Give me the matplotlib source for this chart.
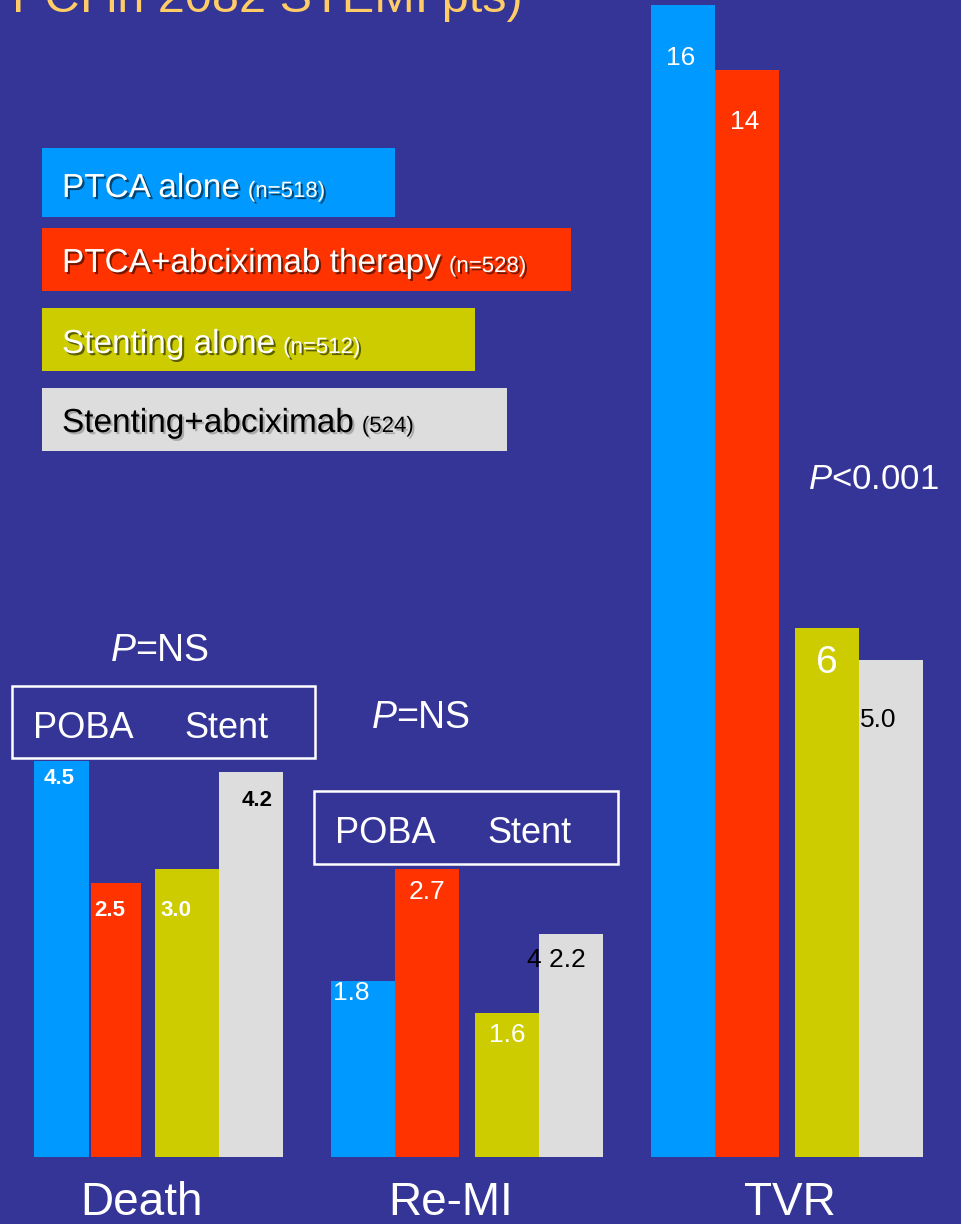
import matplotlib
matplotlib.use('Agg')
import matplotlib.pyplot as plt
import matplotlib.patheffects as pe
from matplotlib.patches import Rectangle

categories = ['Death', 'Re-MI', 'TVR']
series = ['PTCA alone', 'PTCA+abciximab therapy', 'Stenting alone', 'Stenting+abciximab']
series_n = ['(n=518)', '(n=528)', '(n=512)', '(524)']
p_values = ['$P$=NS', '$P$=NS', '$P$<0.001']

# numbers printed on the bars
value_labels = [
    ['4.5', '2.5', '3.0', '4.2'],
    ['1.8', '2.7', '1.6', '4 2.2'],
    ['16', '14', '6', '5.0'],
]

# bar heights as drawn on the slide (not to scale), in units of the TVR 16 bar
ptca = [5.5, 2.45, 16.0]
ptca_abx = [3.8, 4.0, 15.1]
stent = [4.0, 2.0, 7.35]
stent_abx = [5.35, 3.1, 6.9]
heights = [ptca, ptca_abx, stent, stent_abx]

colors = ['#0099FF', '#FF3300', '#CCCC00', '#DDDDDD']
BG = '#353597'
W, H = 961, 1224
BASE, PX = 1157, 72.0

plt.rcParams['font.family'] = ['Liberation Sans', 'DejaVu Sans']
plt.rcParams['mathtext.fontset'] = 'custom'
plt.rcParams['mathtext.it'] = 'Liberation Sans:italic'
plt.rcParams['mathtext.rm'] = 'Liberation Sans'

fig = plt.figure(figsize=(W / 100, H / 100), dpi=100, facecolor=BG)

# bars
ax = fig.add_axes([0, 0, 1, 1])
ax.set_facecolor('none')
ax.set_xlim(0, W)
ax.set_ylim(-(H - BASE) / PX, BASE / PX)
ax.axis('off')

group_x = [11, 331, 651]
bw, gap = 64, 16
offsets = [0, bw, 2 * bw + gap, 3 * bw + gap]
for s in range(4):
    lefts = [g + offsets[s] for g in group_x]
    widths = [bw] * 3
    if s == 0:
        lefts[0], widths[0] = 34, 55
    if s == 1:
        lefts[0], widths[0] = 91, 50
    ax.bar(lefts, heights[s], width=widths, align='edge', color=colors[s], linewidth=0)

# overlay in pixel coordinates for texts and boxes
ov = fig.add_axes([0, 0, 1, 1])
ov.set_facecolor('none')
ov.set_xlim(0, W)
ov.set_ylim(H, 0)
ov.axis('off')

# title (cut off at the top of the slide, as in the original)
ov.text(523, 12, 'PCI in 2082 STEMI pts)', color='#FFCC66', fontsize=35,
        ha='right', va='baseline')

# legend boxes
shadow_w = [pe.SimplePatchShadow(offset=(1.5, -1.5), shadow_rgbFace='black', alpha=0.55), pe.Normal()]
shadow_k = [pe.SimplePatchShadow(offset=(1.5, -1.5), shadow_rgbFace='#777777', alpha=0.5), pe.Normal()]
boxes = [(42, 148, 395, 217), (42, 228, 571, 291), (42, 308, 475, 371), (42, 388, 507, 451)]
baselines = [197, 272, 353, 432]
fig.canvas.draw()
renderer = fig.canvas.get_renderer()
for i, (x0, y0, x1, y1) in enumerate(boxes):
    ov.add_patch(Rectangle((x0, y0), x1 - x0, y1 - y0, facecolor=colors[i], linewidth=0))
    tc = 'black' if i == 3 else 'white'
    eff = shadow_k if i == 3 else shadow_w
    t = ov.text(62, baselines[i], series[i], color=tc, fontsize=24, ha='left',
                va='baseline', path_effects=eff)
    bb = t.get_window_extent(renderer)
    xr = ov.transData.inverted().transform((bb.x1, 0))[0]
    ov.text(xr + 8, baselines[i], series_n[i], color=tc, fontsize=16, ha='left',
            va='baseline', path_effects=eff)

# POBA / Stent boxes
for (x0, y0, x1, y1), base, xp, xs in [((12, 686, 315, 758), 738, 33, 184),
                                       ((314, 791, 618, 864), 843, 335, 487)]:
    ov.add_patch(Rectangle((x0, y0), x1 - x0, y1 - y0, facecolor='none',
                           edgecolor='white', linewidth=1.8))
    ov.text(xp, base, 'POBA', color='white', fontsize=26, ha='left', va='baseline')
    ov.text(xs, base, 'Stent', color='white', fontsize=26, ha='left', va='baseline')

# p-values
for (x, y), p, fs in zip([(110, 661), (371, 728), (808, 489)], p_values, [27, 27, 25]):
    ov.text(x, y, p, color='white', fontsize=fs, ha='left', va='baseline')

# value labels
label_pos = [
    [(59, 778), (110, 910), (176, 910), (257, 800)],
    [(351, 993), (427, 892), (507, 1035), (556, 960)],
    [(681, 58), (745, 122), (827, 663), (878, 720)],
]
for g in range(3):
    for s in range(4):
        x, y = label_pos[g][s]
        tc = 'black' if s == 3 else 'white'
        fs = 16 if g == 0 else 19
        fw = 'bold' if g == 0 else 'normal'
        if g == 2 and s == 2:
            fs = 28
        ov.text(x, y, value_labels[g][s], color=tc, fontsize=fs, fontweight=fw,
                ha='center', va='center')

# category labels
for x, c in zip([141, 451, 790], categories):
    ov.text(x, 1215, c, color='white', fontsize=33, ha='center', va='baseline')

fig.savefig('out.png', dpi=100, facecolor=BG)
